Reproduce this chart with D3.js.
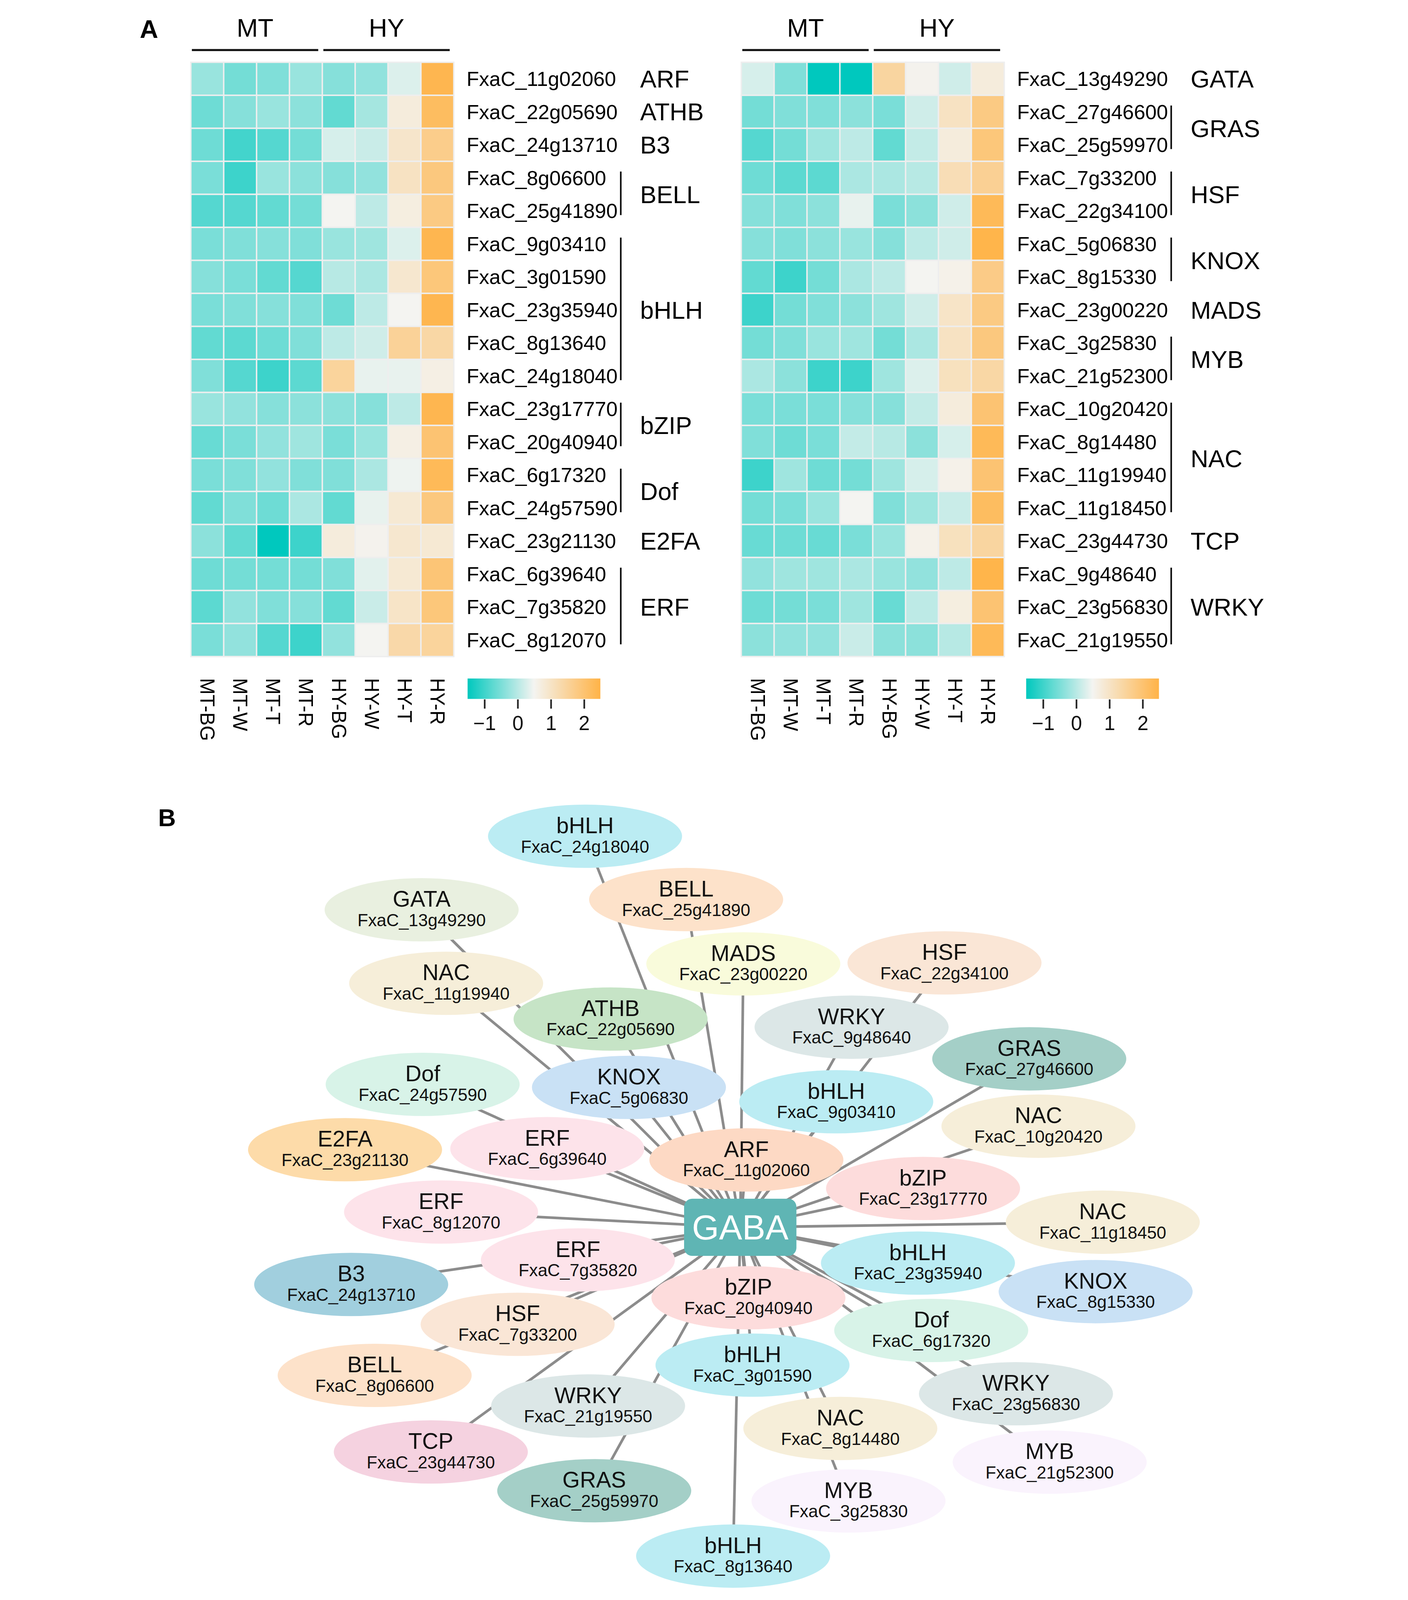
<!DOCTYPE html>
<html>
<head>
<meta charset="utf-8">
<script src="https://cdn.jsdelivr.net/npm/d3@7/dist/d3.min.js"></script>
<style>
  html, body { margin: 0; padding: 0; background: #fff; overflow: hidden; }
  svg { display: block; }
</style>
</head>
<body>
<div id="chart"></div>
<script>
// ---- data ----
const sampleCols = ["MT-BG", "MT-W", "MT-T", "MT-R", "HY-BG", "HY-W", "HY-T", "HY-R"];
const sampleGroups = ["MT", "MT", "MT", "MT", "HY", "HY", "HY", "HY"];
const legendTicks = [-1, 0, 1, 2];

const leftGenes = ["FxaC_11g02060", "FxaC_22g05690", "FxaC_24g13710", "FxaC_8g06600", "FxaC_25g41890",
  "FxaC_9g03410", "FxaC_3g01590", "FxaC_23g35940", "FxaC_8g13640", "FxaC_24g18040", "FxaC_23g17770",
  "FxaC_20g40940", "FxaC_6g17320", "FxaC_24g57590", "FxaC_23g21130", "FxaC_6g39640", "FxaC_7g35820", "FxaC_8g12070"];
const leftFamilies = ["ARF", "ATHB", "B3", "BELL", "BELL", "bHLH", "bHLH", "bHLH", "bHLH", "bHLH",
  "bZIP", "bZIP", "Dof", "Dof", "E2FA", "ERF", "ERF", "ERF"];
const leftValues = [
  [-0.25, -0.55, -0.45, -0.25, -0.4, -0.3, 0.3, 2.4],
  [-0.6, -0.4, -0.25, -0.35, -0.7, -0.15, 0.75, 2.2],
  [-0.6, -0.95, -0.8, -0.55, 0.25, 0.15, 0.95, 1.7],
  [-0.5, -1.0, -0.25, -0.35, -0.4, -0.3, 1.05, 1.85],
  [-0.8, -0.8, -0.7, -0.55, 0.5, 0.05, 0.7, 1.8],
  [-0.5, -0.45, -0.4, -0.45, -0.25, -0.2, 0.3, 2.4],
  [-0.4, -0.5, -0.7, -0.8, 0.0, -0.1, 0.9, 1.9],
  [-0.5, -0.45, -0.4, -0.45, -0.6, 0.05, 0.5, 2.4],
  [-0.7, -0.75, -0.6, -0.45, 0.05, 0.2, 1.55, 1.4],
  [-0.45, -0.8, -1.0, -0.75, 1.5, 0.4, 0.4, 0.65],
  [-0.25, -0.3, -0.4, -0.35, -0.35, -0.4, 0.05, 2.4],
  [-0.65, -0.5, -0.3, -0.2, -0.5, -0.25, 0.65, 2.0],
  [-0.5, -0.45, -0.3, -0.45, -0.45, -0.1, 0.45, 2.3],
  [-0.7, -0.45, -0.6, -0.1, -0.7, 0.4, 0.85, 1.85],
  [-0.35, -0.7, -1.5, -1.0, 0.75, 0.55, 0.9, 0.85],
  [-0.6, -0.55, -0.55, -0.55, -0.45, 0.35, 0.85, 1.95],
  [-0.75, -0.3, -0.45, -0.4, -0.7, 0.15, 1.0, 1.9],
  [-0.5, -0.3, -0.8, -1.0, -0.3, 0.5, 1.35, 1.5]
];

const rightGenes = ["FxaC_13g49290", "FxaC_27g46600", "FxaC_25g59970", "FxaC_7g33200", "FxaC_22g34100",
  "FxaC_5g06830", "FxaC_8g15330", "FxaC_23g00220", "FxaC_3g25830", "FxaC_21g52300", "FxaC_10g20420",
  "FxaC_8g14480", "FxaC_11g19940", "FxaC_11g18450", "FxaC_23g44730", "FxaC_9g48640", "FxaC_23g56830", "FxaC_21g19550"];
const rightFamilies = ["GATA", "GRAS", "GRAS", "HSF", "HSF", "KNOX", "KNOX", "MADS", "MYB", "MYB",
  "NAC", "NAC", "NAC", "NAC", "TCP", "WRKY", "WRKY", "WRKY"];
const rightValues = [
  [0.25, -0.45, -1.5, -1.5, 1.45, 0.55, 0.2, 0.75],
  [-0.55, -0.45, -0.45, -0.35, -0.5, 0.2, 1.05, 1.8],
  [-0.8, -0.55, -0.2, 0.05, -0.7, 0.1, 0.75, 1.9],
  [-0.6, -0.75, -0.75, -0.1, -0.1, 0.0, 1.2, 1.6],
  [-0.4, -0.45, -0.35, 0.4, -0.5, -0.35, 0.2, 2.3],
  [-0.4, -0.45, -0.35, -0.25, -0.4, 0.05, 0.2, 2.45],
  [-0.7, -1.0, -0.55, -0.1, 0.05, 0.5, 0.6, 1.75],
  [-1.0, -0.55, -0.45, -0.35, -0.2, 0.2, 1.0, 1.8],
  [-0.55, -0.45, -0.25, -0.2, -0.55, -0.1, 1.05, 1.85],
  [-0.1, -0.35, -1.0, -1.0, -0.2, 0.3, 1.1, 1.4],
  [-0.5, -0.5, -0.5, -0.4, -0.4, 0.1, 0.75, 2.0],
  [-0.45, -0.6, -0.5, 0.1, 0.0, -0.35, 0.25, 2.3],
  [-1.0, -0.2, -0.6, -0.55, -0.2, 0.25, 0.6, 2.0],
  [-0.55, -0.5, -0.25, 0.5, -0.45, -0.2, 0.15, 2.2],
  [-0.65, -0.6, -0.65, -0.5, -0.25, 0.6, 1.1, 1.45],
  [-0.3, -0.2, -0.2, -0.1, -0.25, -0.3, 0.05, 2.45],
  [-0.6, -0.55, -0.5, -0.2, -0.65, 0.05, 0.7, 2.0],
  [-0.35, -0.3, -0.3, 0.15, -0.35, -0.35, 0.0, 2.3]
];

// network: hub and TF nodes (layout units, hub at 0,0)
const hubLabel = "GABA";
const netFamily = ["bHLH", "BELL", "GATA", "MADS", "HSF", "NAC", "ATHB", "WRKY", "GRAS", "Dof", "KNOX", "bHLH",
  "NAC", "E2FA", "ERF", "ARF", "bZIP", "ERF", "NAC", "ERF", "bHLH", "B3", "KNOX", "bZIP", "Dof", "HSF", "BELL",
  "bHLH", "WRKY", "WRKY", "NAC", "TCP", "MYB", "GRAS", "MYB", "bHLH"];
const netGene = ["FxaC_24g18040", "FxaC_25g41890", "FxaC_13g49290", "FxaC_23g00220", "FxaC_22g34100",
  "FxaC_11g19940", "FxaC_22g05690", "FxaC_9g48640", "FxaC_27g46600", "FxaC_24g57590", "FxaC_5g06830",
  "FxaC_9g03410", "FxaC_10g20420", "FxaC_23g21130", "FxaC_6g39640", "FxaC_11g02060", "FxaC_23g17770",
  "FxaC_8g12070", "FxaC_11g18450", "FxaC_7g35820", "FxaC_23g35940", "FxaC_24g13710", "FxaC_8g15330",
  "FxaC_20g40940", "FxaC_6g17320", "FxaC_7g33200", "FxaC_8g06600", "FxaC_3g01590", "FxaC_23g56830",
  "FxaC_21g19550", "FxaC_8g14480", "FxaC_23g44730", "FxaC_21g52300", "FxaC_25g59970", "FxaC_3g25830", "FxaC_8g13640"];
const netLayoutX = [-152, -53, -312, 3, 200, -288, -127, 109, 283, -311, -109, 94, 292, -387, -189, 6, 179,
  -293, 355, -159, 174, -381, 348, 8, 187, -218, -358, 12, 270, -149, 98, -303, 303, -143, 106, -7];
const netLayoutY = [-383, -321, -311, -258, -259, -239, -204, -196, -165, -140, -137, -123, -99, -76, -77,
  -66, -38, -15, -5, 32, 35, 56, 63, 69, 101, 95, 145, 135, 163, 175, 197, 220, 230, 258, 268, 322];

const familyNames = ["bHLH", "BELL", "GATA", "MADS", "HSF", "NAC", "ATHB", "WRKY", "GRAS", "Dof", "KNOX",
  "E2FA", "ERF", "ARF", "bZIP", "B3", "TCP", "MYB"];
const familyFill = ["#bbecf3", "#fde2ca", "#e9f0e0", "#f9fbdb", "#fae6d6", "#f6eed9", "#c6e4c6", "#dce7e7",
  "#a4cfc7", "#d8f3e8", "#c9e1f5", "#fddba9", "#fde3ea", "#fdd9c4", "#fddcdc", "#a1cfde", "#f5d2e0", "#faf3fd"];

// ---- drawing ----
const W = 1135, H = 1567;
const FONT = "'Liberation Sans', Arial, Helvetica, sans-serif";

// the window's inner area is shorter than the figure, so fit the whole figure into it
const svg = d3.select("#chart").append("svg")
  .attr("viewBox", `0 0 ${W} ${H}`)
  .attr("preserveAspectRatio", "xMidYMid meet")
  .style("width", "100vw")
  .style("height", "100vh")
  .style("font-family", FONT);

const color = d3.scaleLinear()
  .domain([-1.5, 0.5, 2.5])
  .range(["#00c8be", "#f4f4f1", "#ffb347"])
  .interpolate(d3.interpolateRgb);

// gradient for the legends
const grad = svg.append("defs").append("linearGradient")
  .attr("id", "legendGrad")
  .attr("x1", "0%").attr("x2", "100%");
d3.range(0, 1.0001, 0.1).forEach(t => {
  grad.append("stop")
    .attr("offset", `${t * 100}%`)
    .attr("stop-color", color(-1.5 + 4 * t));
});

svg.append("text").attr("x", 15).attr("y", 37)
  .attr("font-size", 25).attr("font-weight", "bold").text("A");
svg.append("text").attr("x", 33).attr("y", 809)
  .attr("font-size", 24).attr("font-weight", "bold").text("B");

const panels = [
  { x0: 65, legendX: 336, genes: leftGenes, families: leftFamilies, values: leftValues },
  { x0: 604, legendX: 883, genes: rightGenes, families: rightFamilies, values: rightValues }
];

panels.forEach(p => drawHeatmap(p));

function drawHeatmap(p) {
  const g = svg.append("g");
  const top = 61, bottom = 643;

  const x = d3.scaleBand().domain(sampleCols).range([p.x0, p.x0 + 257.5]);
  const y = d3.scaleBand().domain(p.genes).range([top, bottom]);

  // cells
  const cells = [];
  p.genes.forEach((gene, i) => {
    sampleCols.forEach((col, j) => cells.push({ gene, col, v: p.values[i][j] }));
  });
  g.selectAll("rect.cell")
    .data(cells)
    .enter()
    .append("rect")
    .attr("class", "cell")
    .attr("x", d => x(d.col))
    .attr("y", d => y(d.gene))
    .attr("width", x.bandwidth())
    .attr("height", y.bandwidth())
    .attr("fill", d => color(d.v))
    .attr("stroke", "#eeeeee")
    .attr("stroke-width", 1.4);

  // group header
  const groupNames = Array.from(new Set(sampleGroups));
  groupNames.forEach(name => {
    const cols = sampleCols.filter((c, j) => sampleGroups[j] === name);
    const gx0 = x(cols[0]) + 1, gx1 = x(cols[cols.length - 1]) + x.bandwidth() - 4;
    g.append("line")
      .attr("x1", gx0).attr("x2", gx1)
      .attr("y1", 49).attr("y2", 49)
      .attr("stroke", "#111").attr("stroke-width", 2);
    g.append("text")
      .attr("x", (gx0 + gx1) / 2).attr("y", 36)
      .attr("text-anchor", "middle")
      .attr("font-size", 25)
      .text(name);
  });

  // gene labels
  const labelX = p.x0 + 270;
  g.selectAll("text.gene")
    .data(p.genes)
    .enter()
    .append("text")
    .attr("class", "gene")
    .attr("x", labelX)
    .attr("y", d => y(d) + y.bandwidth() / 2 + 7)
    .attr("font-size", 20)
    .text(d => d);

  // family brackets and names
  const fams = [];
  p.families.forEach((f, i) => {
    const last = fams[fams.length - 1];
    if (last && last.name === f) last.end = i;
    else fams.push({ name: f, start: i, end: i });
  });
  fams.forEach(f => {
    const y0 = y(p.genes[f.start]);
    const y1 = y(p.genes[f.end]) + y.bandwidth();
    if (f.end > f.start) {
      g.append("line")
        .attr("x1", labelX + 151).attr("x2", labelX + 151)
        .attr("y1", y0 + 10).attr("y2", y1 - 12)
        .attr("stroke", "#111").attr("stroke-width", 1.6);
    }
    g.append("text")
      .attr("x", labelX + 170)
      .attr("y", (y0 + y1) / 2 + 8.5)
      .attr("font-size", 24)
      .text(f.name);
  });

  // column labels (vertical)
  g.selectAll("text.col")
    .data(sampleCols)
    .enter()
    .append("text")
    .attr("class", "col")
    .attr("transform", d => `translate(${x(d) + x.bandwidth() / 2},664) rotate(90)`)
    .attr("dominant-baseline", "central")
    .attr("font-size", 19.5)
    .text(d => d);

  // colour legend
  const lx = d3.scaleLinear().domain([-1.5, 2.5]).range([p.legendX, p.legendX + 130]);
  g.append("rect")
    .attr("x", lx(-1.5)).attr("y", 664.5)
    .attr("width", lx(2.5) - lx(-1.5)).attr("height", 20)
    .attr("fill", "url(#legendGrad)");
  const axis = d3.axisBottom(lx)
    .tickValues(legendTicks)
    .tickSize(9)
    .tickFormat(d => d < 0 ? "\u2212" + Math.abs(d) : d);
  const ax = g.append("g")
    .attr("transform", "translate(0,685)")
    .call(axis);
  ax.select(".domain").remove();
  ax.selectAll(".tick line").attr("stroke", "#222").attr("stroke-width", 1.6);
  ax.selectAll(".tick text")
    .attr("y", 16)
    .attr("font-size", 19.5)
    .attr("font-family", FONT)
    .attr("fill", "#111");
}

// ---- network ----
const nx = d3.scaleLinear().domain([-400, 400]).range([603 - 400, 603 + 400]);
const ny = d3.scaleLinear().domain([-400, 400]).range([1202 - 400, 1202 + 400]);
const famColor = d3.scaleOrdinal().domain(familyNames).range(familyFill);

const nodes = netGene.map((gene, i) => ({
  gene, family: netFamily[i], x: nx(netLayoutX[i]), y: ny(netLayoutY[i])
}));

const net = svg.append("g");

net.selectAll("line.edge")
  .data(nodes)
  .enter()
  .append("line")
  .attr("class", "edge")
  .attr("x1", nx(0)).attr("y1", ny(0))
  .attr("x2", d => d.x).attr("y2", d => d.y)
  .attr("stroke", "#8c8c8c")
  .attr("stroke-width", 2.6);

const node = net.selectAll("g.node")
  .data(nodes)
  .enter()
  .append("g")
  .attr("class", "node")
  .attr("transform", d => `translate(${d.x},${d.y})`);

node.append("ellipse")
  .attr("rx", 95).attr("ry", 31)
  .attr("fill", d => famColor(d.family));
node.append("text")
  .attr("text-anchor", "middle")
  .attr("y", -3)
  .attr("font-size", 22)
  .attr("fill", "#111")
  .text(d => d.family);
node.append("text")
  .attr("text-anchor", "middle")
  .attr("y", 16)
  .attr("font-size", 17)
  .attr("fill", "#111")
  .text(d => d.gene);

net.append("rect")
  .attr("x", nx(0) - 55).attr("y", ny(0) - 28)
  .attr("width", 110).attr("height", 56)
  .attr("rx", 8)
  .attr("fill", "#5fb5b4");
net.append("text")
  .attr("x", nx(0)).attr("y", ny(0) + 12)
  .attr("text-anchor", "middle")
  .attr("font-size", 34)
  .attr("fill", "#fff")
  .text(hubLabel);
</script>
</body>
</html>
